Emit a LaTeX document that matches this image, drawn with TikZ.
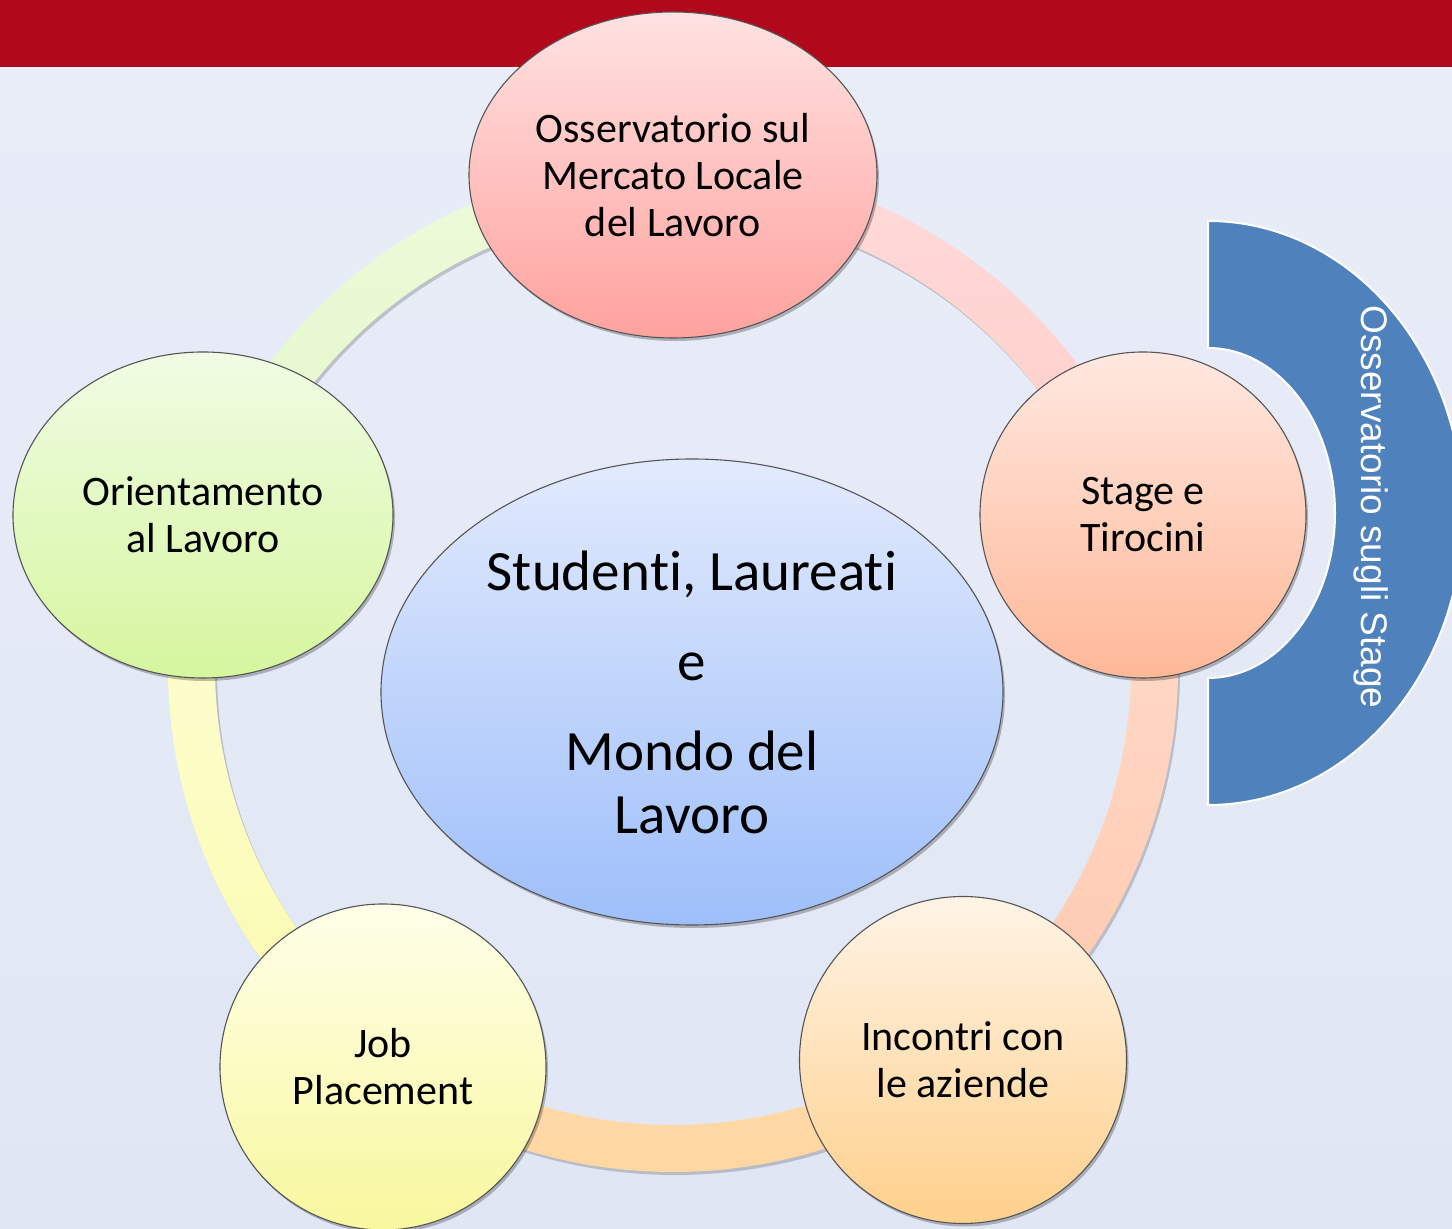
\documentclass[tikz,border=0pt]{standalone}
\usepackage{fontspec}
\setmainfont{Carlito}[RawFeature={-liga,-clig,-calt,-dlig}]
\newfontfamily\arialf{Liberation Sans}
\usetikzlibrary{shapes.geometric,shadows}
\definecolor{bandred}{HTML}{B1081C}
\definecolor{bgtop}{HTML}{E9EDF8}
\definecolor{bgmid}{HTML}{C6D3EC}
\definecolor{bgbot}{HTML}{E0E6F4}
\definecolor{obsblue}{HTML}{4F81BD}
\definecolor{edgegray}{HTML}{555555}
\tikzset{
  bubble/.style={ellipse, draw=edgegray, line width=1.1pt, inner sep=0pt, align=center,
    font=\fontsize{42}{47}\selectfont,
    drop shadow={shadow xshift=2pt, shadow yshift=-3pt, opacity=0.25, fill=black}},
  ringseg/.style={drop shadow={shadow xshift=2pt, shadow yshift=-3pt, opacity=0.18, fill=black}},
}
\begin{document}
\begin{tikzpicture}[x=1pt,y=1pt]
\useasboundingbox (0,0) rectangle (1452,1229);
\clip (0,0) rectangle (1452,1229);
% background
\shade[top color=bgtop, middle color=bgmid, bottom color=bgbot] (0,0) rectangle (1452,1162);
\fill[bandred] (0,1162) rectangle (1452,1229);
% ring segments (centre 673,562; outer r 505, width 47)
\coordinate (rc) at (673,562);
\shade[ringseg, top color={rgb,255:red,255;green,218;blue,218}, bottom color={rgb,255:red,255;green,200;blue,192}]
  (rc) ++(90:505) arc[start angle=90,end angle=18,radius=505] -- ++(198:47) arc[start angle=18,end angle=90,radius=458] -- cycle;
\shade[ringseg, top color={rgb,255:red,255;green,220;blue,206}, bottom color={rgb,255:red,255;green,200;blue,172}]
  (rc) ++(18:505) arc[start angle=18,end angle=-54,radius=505] -- ++(126:47) arc[start angle=-54,end angle=18,radius=458] -- cycle;
\shade[ringseg, top color={rgb,255:red,255;green,228;blue,196}, bottom color={rgb,255:red,255;green,214;blue,160}]
  (rc) ++(-54:505) arc[start angle=-54,end angle=-126,radius=505] -- ++(54:47) arc[start angle=-126,end angle=-54,radius=458] -- cycle;
\shade[ringseg, top color={rgb,255:red,255;green,255;blue,218}, bottom color={rgb,255:red,250;green,250;blue,172}]
  (rc) ++(-126:505) arc[start angle=-126,end angle=-198,radius=505] -- ++(-18:47) arc[start angle=-198,end angle=-126,radius=458] -- cycle;
\shade[ringseg, top color={rgb,255:red,236;green,250;blue,218}, bottom color={rgb,255:red,226;green,248;blue,196}]
  (rc) ++(162:505) arc[start angle=162,end angle=90,radius=505] -- ++(270:47) arc[start angle=90,end angle=162,radius=458] -- cycle;
% outer nodes
\node[bubble, minimum width=408, minimum height=326,
  top color={rgb,255:red,255;green,226;blue,226}, bottom color={rgb,255:red,255;green,162;blue,158}]
  (oss) at (673,1054) {Osservatorio sul\\Mercato Locale\\del Lavoro};
\node[bubble, minimum width=380, minimum height=326,
  top color={rgb,255:red,240;green,252;blue,228}, bottom color={rgb,255:red,214;green,246;blue,158}]
  (ori) at (203,714) {Orientamento\\al Lavoro};
\node[bubble, minimum width=326, minimum height=326,
  top color={rgb,255:red,255;green,232;blue,224}, bottom color={rgb,255:red,255;green,184;blue,152}]
  (sta) at (1143,714) {Stage e\\Tirocini};
\node[bubble, minimum width=327, minimum height=327,
  top color={rgb,255:red,255;green,244;blue,230}, bottom color={rgb,255:red,255;green,208;blue,140}]
  (inc) at (963,169) {Incontri con\\le aziende};
\node[bubble, minimum width=326, minimum height=326,
  top color={rgb,255:red,255;green,255;blue,234}, bottom color={rgb,255:red,248;green,248;blue,158}]
  (job) at (383,162) {Job\\Placement};
% centre
\node[bubble, minimum width=622, minimum height=466, font=\fontsize{57}{63}\selectfont,
  top color={rgb,255:red,226;green,234;blue,253}, bottom color={rgb,255:red,158;green,191;blue,250}]
  (cen) at (692,537) {Studen\kern0pt ti, Laureati\\[27pt]e\\[27pt]Mondo del\\Lavoro};
% blue half ring
\draw[fill=obsblue, draw=white, line width=2pt]
  (1208,1008) arc[start angle=90,end angle=-90,x radius=255,y radius=292]
  -- (1208,551) arc[start angle=-90,end angle=90,x radius=127,y radius=165] -- cycle;
\node[rotate=-90, text=white, font=\arialf\fontsize{37}{40}\selectfont, inner sep=0pt]
  (obs) at (1371,722) {Osservatorio sugli Stage};
\end{tikzpicture}
\end{document}
